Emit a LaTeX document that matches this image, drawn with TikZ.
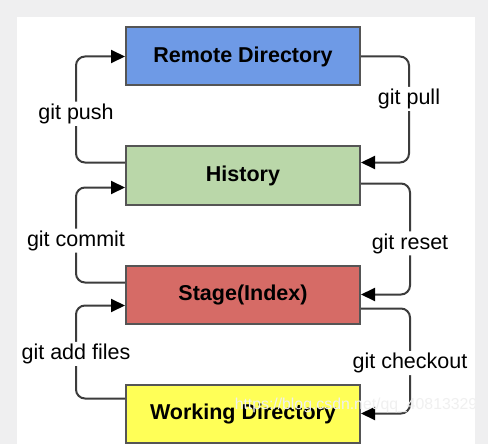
\documentclass[tikz,border=0pt]{standalone}
\usepackage{fontspec}
\setmainfont{Liberation Sans}
\usepackage{xcolor}
\usepackage{tikz}
\usetikzlibrary{arrows.meta, positioning}
\definecolor{bggray}{HTML}{EFEFF0}
\definecolor{edgegray}{HTML}{555555}
\definecolor{linegray}{HTML}{3C3C3C}
\definecolor{remotefill}{HTML}{6E9AE6}
\definecolor{historyfill}{HTML}{BAD7A9}
\definecolor{stagefill}{HTML}{D66B66}
\definecolor{workfill}{HTML}{FFFF57}
\tikzset{
    base/.style={draw=edgegray, line width=2pt, font=\fontsize{21.5}{24}\selectfont\bfseries, align=center},
    block/.style={base, rectangle, minimum width=234pt, minimum height=58pt},
    line/.style={draw=linegray, line width=2pt, rounded corners=9pt, -{Triangle[length=14pt,width=13pt,color=black]}},
    cmd/.style={fill=white, inner sep=2pt, font=\fontsize{21.5}{24}\selectfont, text=black}
}

\begin{document}
\begin{tikzpicture}[x=1pt, y=-1pt, node distance=59pt]
    \fill[bggray] (0,0) rectangle (488,444);
    \fill[white] (17,17) rectangle (475,444);
    \useasboundingbox (0,0) rectangle (488,444);

    \node [block, fill=remotefill] (remote) at (243,56.5) {Remote Directory};
    \node [block, fill=historyfill, below=of remote] (history) {History};
    \node [block, fill=stagefill, below=of history] (stage) {Stage(Index)};
    \node [block, fill=workfill, below=of stage] (working) {Working Directory};

    % left side: towards the remote
    \draw [line] ([yshift=13pt]history.west) -- ++(-49pt,0) |- node [cmd, pos=0.23] {git push} (remote.west);
    \draw [line] ([yshift=12pt]stage.west) -- ++(-49pt,0) |- node [cmd, pos=0.22] {git commit} ([yshift=-12pt]history.west);
    \draw [line] ([yshift=15pt]working.west) -- ++(-49pt,0) |- node [cmd, pos=0.24] {git add files} ([yshift=-11pt]stage.west);

    % right side: back to the working copy
    \draw [line] (remote.east) -- ++(48pt,0) |- node [cmd, pos=0.2] {git pull} ([yshift=13pt]history.east);
    \draw [line] ([yshift=-8pt]history.east) -- ++(49pt,0) |- node [cmd, pos=0.27] {git reset} (stage.east);
    \draw [line] ([yshift=-14pt]stage.east) -- ++(49pt,0) |- node [cmd, pos=0.26] {git checkout} (working.east);

    \node [text=white!88!gray, font=\fontsize{15.8}{18}\selectfont] (mark) at (356,405) {https://blog.csdn.net/qq\_40813329};
\end{tikzpicture}
\end{document}
